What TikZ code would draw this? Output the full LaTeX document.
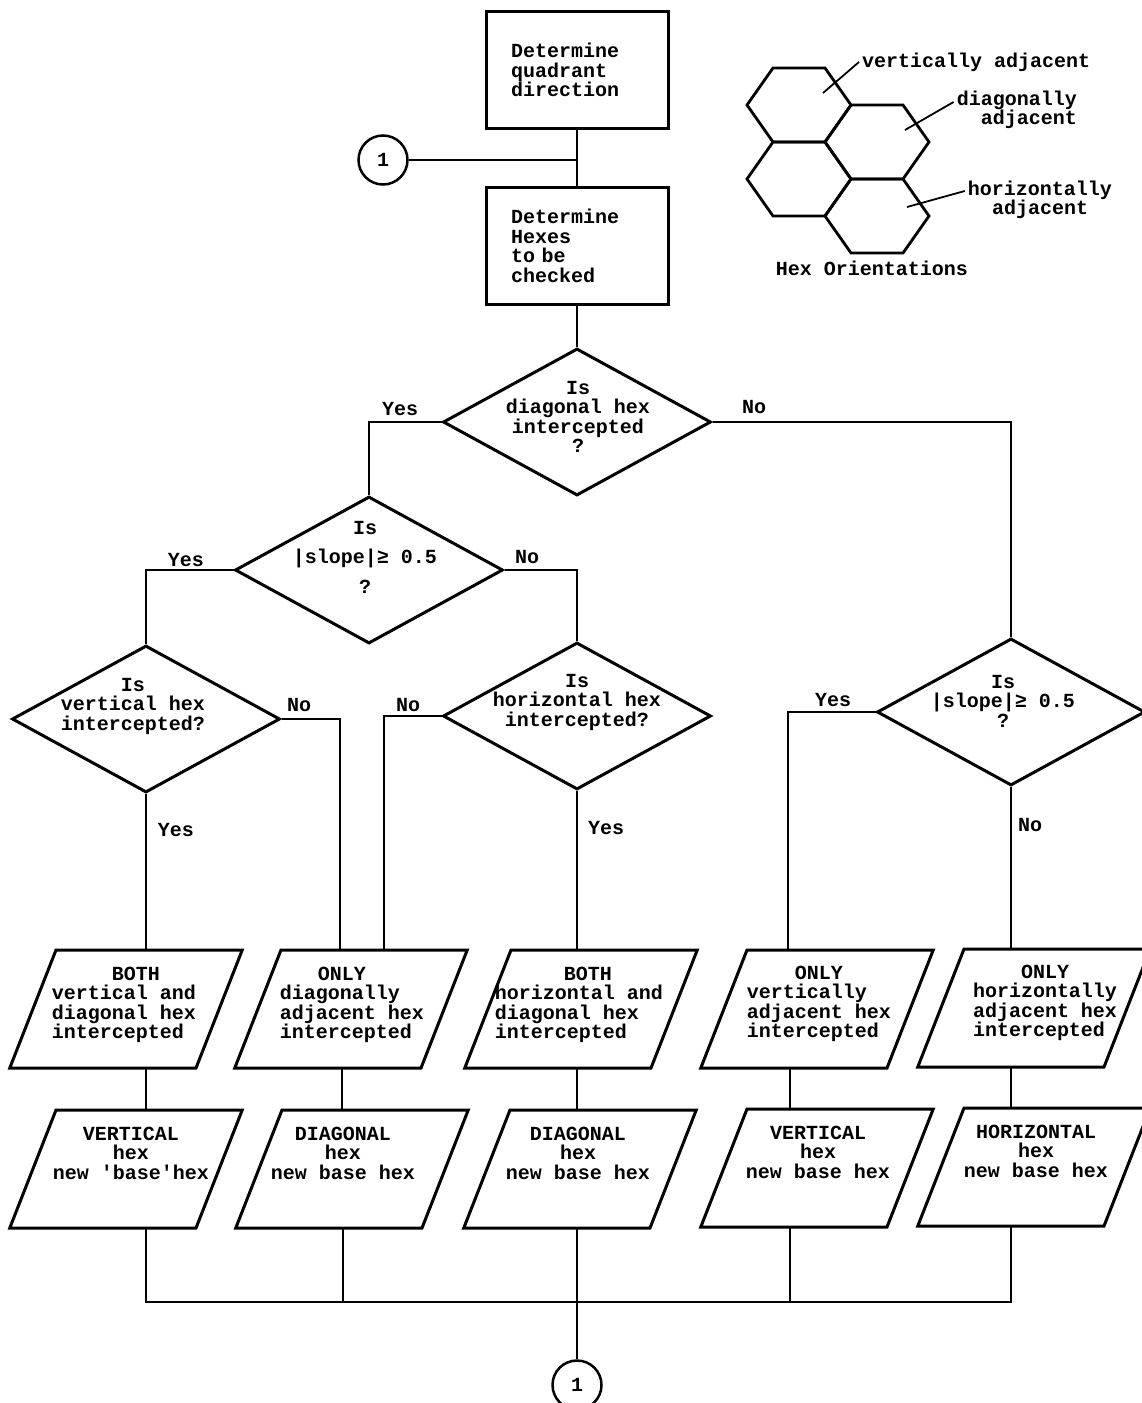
\documentclass[tikz,border=0pt]{standalone}
\usepackage{fontspec}
\setmonofont{Liberation Mono}
\usetikzlibrary{shapes.geometric}

\tikzset{
  every node/.style={font=\ttfamily\bfseries\fontsize{20}{19.5}\selectfont},
  procbox/.style={draw, line width=3pt, minimum width=182pt, minimum height=117pt,
    text width=132pt, align=left, inner xsep=25pt},
  decision/.style={draw, diamond, line width=3pt, minimum width=268pt,
    minimum height=147pt, inner sep=0pt},
  iobox/.style={draw, trapezium, line width=3pt, trapezium left angle=68.6,
    trapezium right angle=111.4, inner xsep=70pt, inner ysep=59pt, outer sep=0pt},
  words/.style={inner sep=0pt},
  link/.style={draw, circle, line width=2.5pt, minimum size=49pt, inner sep=0pt},
  conn/.style={line width=2pt},
  leader/.style={line width=1.8pt},
  hexline/.style={line width=2.8pt, line join=miter}
}

\begin{document}
\begin{tikzpicture}[x=1pt, y=-1pt]
\useasboundingbox (0,0) rectangle (1142,1403);

% top boxes and entry point
\node[procbox] (quad) at (577,70) {Determine\\quadrant\\direction};
\node[procbox] (hexes) at (577,246) {Determine\\Hexes\\to be\\checked};
\node[link] (entry) at (383,160) {1};
\draw[conn] (quad.south) -- (hexes.north);
\draw[conn] (entry.east) -- (entry.east -| quad.south);

% decisions
\node[decision] (diag) at (577,422) {};
\node[words, align=center] (diagtxt) at (578,417) {Is\\diagonal hex\\intercepted\\?};
\node[decision] (slopeL) at (369,570) {};
\node[words, align=center] (slopeLtxt) at (365,557) {Is\\[10pt]|slope|≥ 0.5\\[10pt]?};
\node[decision] (vert) at (146,719) {};
\node[words, align=center] (verttxt) at (133,706) {Is\\vertical hex\\intercepted?};
\node[decision] (horiz) at (577,716) {};
\node[words, align=center] (horiztxt) at (577,702) {Is\\horizontal hex\\intercepted?};
\node[decision] (slopeR) at (1011,712) {};
\node[words, align=center] (slopeRtxt) at (1003,701) {Is\\|slope|≥ 0.5\\?};

% branch labels
\node (ydiag) at (400,409) {Yes};
\node (ndiag) at (754,407) {No};
\node (yslopeL) at (186,560) {Yes};
\node (nslopeL) at (527,557) {No};
\node (nvert) at (299,705) {No};
\node (yvert) at (176,830) {Yes};
\node (nhoriz) at (408,705) {No};
\node (yhoriz) at (606,828) {Yes};
\node (yslopeR) at (833,700) {Yes};
\node (nslopeR) at (1030,825) {No};

\draw[conn] (hexes.south) -- (diag.north);
\draw[conn] (diag.west) -| (slopeL.north);
\draw[conn] (diag.east) -| (slopeR.north);
\draw[conn] (slopeL.west) -| (vert.north);
\draw[conn] (slopeL.east) -| (horiz.north);

% outcome boxes
\node[iobox] (both1) at (126,1009) {};
\node[words, align=left] (both1txt) at (124,1005) {\hspace*{60pt}BOTH\\vertical and\\diagonal hex\\intercepted};
\node[iobox] (only1) at (351,1009) {};
\node[words, align=left] (only1txt) at (352,1005) {\hspace*{38pt}ONLY\\diagonally\\adjacent hex\\intercepted};
\node[iobox] (both2) at (581,1009) {};
\node[words, align=left] (both2txt) at (579,1005) {\hspace*{69pt}BOTH\\horizontal and\\diagonal hex\\intercepted};
\node[iobox] (only2) at (817,1009) {};
\node[words, align=left] (only2txt) at (819,1004) {\hspace*{48pt}ONLY\\vertically\\adjacent hex\\intercepted};
\node[iobox] (only3) at (1034,1008) {};
\node[words, align=left] (only3txt) at (1045,1003) {\hspace*{48pt}ONLY\\horizontally\\adjacent hex\\intercepted};

\node[iobox] (vbase1) at (126,1169) {};
\node[words, align=center] (vbase1txt) at (131,1153) {VERTICAL\\hex\\new 'base'hex};
\node[iobox] (dbase1) at (352,1169) {};
\node[words, align=center] (dbase1txt) at (343,1153) {DIAGONAL\\hex\\new base hex};
\node[iobox] (dbase2) at (580,1169) {};
\node[words, align=center] (dbase2txt) at (578,1153) {DIAGONAL\\hex\\new base hex};
\node[iobox] (vbase2) at (817,1168) {};
\node[words, align=center] (vbase2txt) at (818,1152) {VERTICAL\\hex\\new base hex};
\node[iobox] (hbase) at (1034,1167) {};
\node[words, align=center] (hbasetxt) at (1036,1151) {HORIZONTAL\\hex\\new base hex};

\draw[conn] (vert.south) -- (vert.south |- both1.north);
\draw[conn] (vert.east) -| ([xshift=-11pt]only1.north);
\draw[conn] (horiz.west) -| ([xshift=33pt]only1.north);
\draw[conn] (horiz.south) -- (horiz.south |- both2.north);
\draw[conn] (slopeR.west) -| ([xshift=-29pt]only2.north);
\draw[conn] (slopeR.south) -- (slopeR.south |- only3.north);

\draw[conn] (both1.south -| vert.south) -- (vbase1.north -| vert.south);
\draw[conn] ([xshift=-9pt]only1.south) -- ([xshift=-9pt]only1.south |- dbase1.north);
\draw[conn] (both2.south -| horiz.south) -- (dbase2.north -| horiz.south);
\draw[conn] ([xshift=-27pt]only2.south) -- ([xshift=-27pt]only2.south |- vbase2.north);
\draw[conn] (only3.south -| slopeR.south) -- (hbase.north -| slopeR.south);

% collecting line and exit point
\node[link] (exit) at (577,1385) {1};
\coordinate (bus) at (577,1302);
\draw[conn] (vbase1.south -| vert.south) |- (bus);
\draw[conn] (hbase.south -| slopeR.south) |- (bus);
\draw[conn] ([xshift=-9pt]dbase1.south) -- ([xshift=-9pt]dbase1.south |- bus);
\draw[conn] ([xshift=-27pt]vbase2.south) -- ([xshift=-27pt]vbase2.south |- bus);
\draw[conn] (dbase2.south -| bus) -- (exit.north);

% hex orientations sketch
\foreach \cx/\cy in {799/105, 877/142, 799/179, 877/216}
  \draw[hexline] (\cx-52,\cy) -- (\cx-26,\cy-37) -- (\cx+26,\cy-37)
    -- (\cx+52,\cy) -- (\cx+26,\cy+37) -- (\cx-26,\cy+37) -- cycle;
\coordinate (vpt) at (823,93);
\coordinate (dpt) at (905,130);
\coordinate (hpt) at (907,207);
\node[words, anchor=west, inner sep=3pt] (vlab) at (859,62) {vertically adjacent};
\node[words, align=right, anchor=east] (dlab) at (1077,110) {diagonally\\adjacent};
\node[words, align=center] (hlab) at (1040,200) {horizontally\\adjacent};
\node (hexcap) at (872,268) {Hex Orientations};
\draw[leader] (vpt) -- (vlab.west);
\draw[leader] (dpt) -- ([xshift=-3pt,yshift=8pt]dlab.west);
\draw[leader] (hpt) -- ([xshift=-3pt,yshift=9pt]hlab.west);
\end{tikzpicture}
\end{document}
